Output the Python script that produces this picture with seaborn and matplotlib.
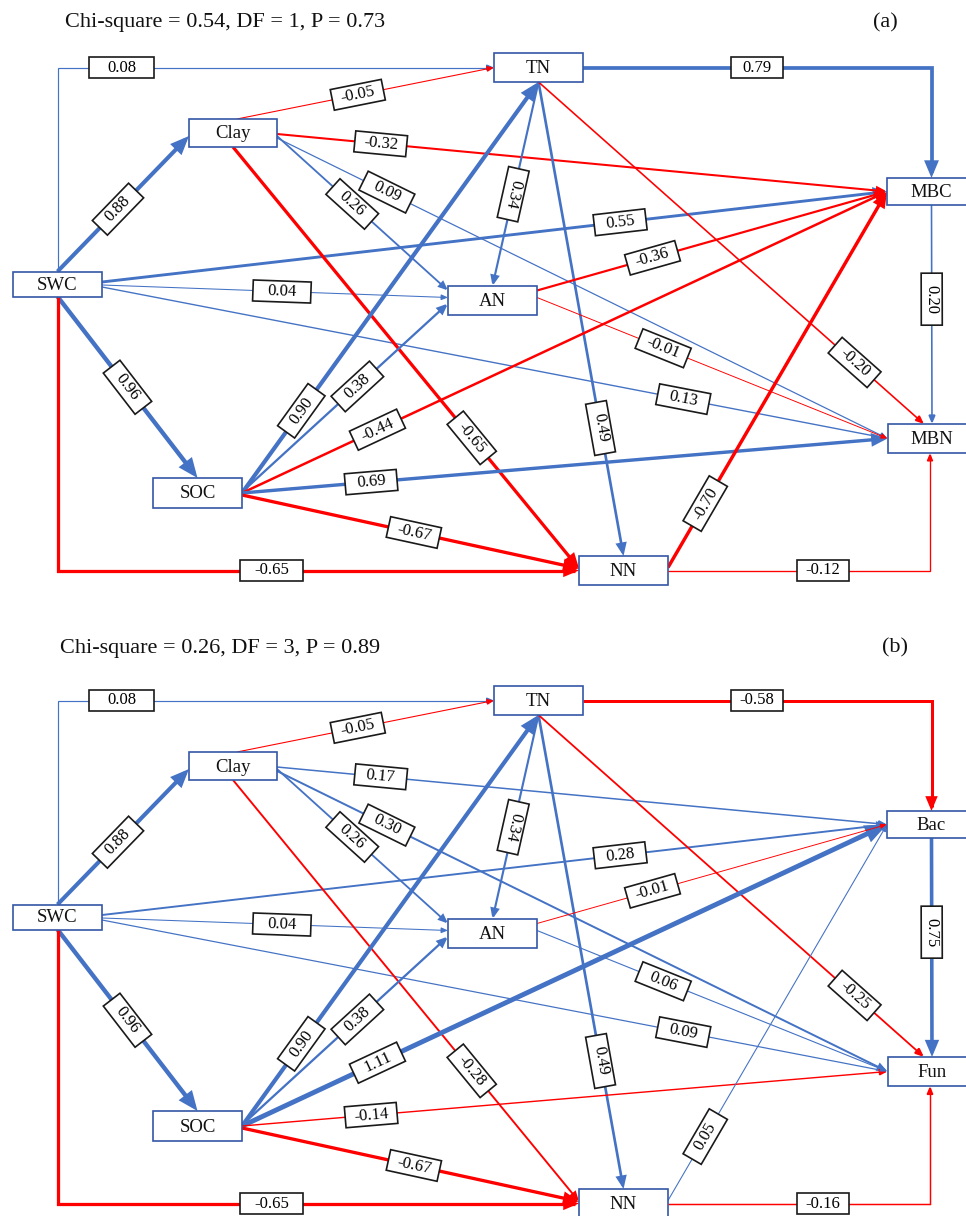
import numpy as np
import matplotlib
matplotlib.use("Agg")
import matplotlib.pyplot as plt
import seaborn as sns
from matplotlib.patches import Rectangle, FancyArrowPatch, ArrowStyle
from matplotlib.path import Path

# ---------------------------------------------------------------- data
# Variables of the two structural equation models
nodes_a = ["SWC", "Clay", "TN", "AN", "SOC", "NN", "MBC", "MBN"]
nodes_b = ["SWC", "Clay", "TN", "AN", "SOC", "NN", "Bac", "Fun"]

# Paths of model (a)
src_a = ["SWC", "SWC", "SWC", "SWC", "SWC", "SWC", "SWC",
         "Clay", "Clay", "Clay", "Clay", "Clay",
         "TN", "TN", "TN", "TN",
         "SOC", "SOC", "SOC", "SOC", "SOC",
         "AN", "AN", "MBC", "NN", "NN"]
tgt_a = ["TN", "Clay", "MBC", "AN", "MBN", "SOC", "NN",
         "TN", "MBC", "AN", "MBN", "NN",
         "MBC", "AN", "NN", "MBN",
         "TN", "AN", "MBC", "MBN", "NN",
         "MBC", "MBN", "MBN", "MBC", "MBN"]
coef_a = [0.08, 0.88, 0.55, 0.04, 0.13, 0.96, -0.65,
          -0.05, -0.32, 0.26, 0.09, -0.65,
          0.79, 0.34, 0.49, -0.20,
          0.90, 0.38, -0.44, 0.69, -0.67,
          -0.36, -0.01, 0.20, -0.70, -0.12]

# Paths of model (b)
src_b = ["SWC", "SWC", "SWC", "SWC", "SWC", "SWC", "SWC",
         "Clay", "Clay", "Clay", "Clay", "Clay",
         "TN", "TN", "TN", "TN",
         "SOC", "SOC", "SOC", "SOC", "SOC",
         "AN", "AN", "Bac", "NN", "NN"]
tgt_b = ["TN", "Clay", "Bac", "AN", "Fun", "SOC", "NN",
         "TN", "Bac", "AN", "Fun", "NN",
         "Bac", "AN", "NN", "Fun",
         "TN", "AN", "Bac", "Fun", "NN",
         "Bac", "Fun", "Fun", "Bac", "Fun"]
coef_b = [0.08, 0.88, 0.28, 0.04, 0.09, 0.96, -0.65,
          -0.05, 0.17, 0.26, 0.30, -0.28,
          -0.58, 0.34, 0.49, -0.25,
          0.90, 0.38, 1.11, -0.14, -0.67,
          -0.01, 0.06, 0.75, 0.05, -0.16]

fit_labels = ["Chi-square = 0.54, DF = 1, P = 0.73",
              "Chi-square = 0.26, DF = 3, P = 0.89"]
panel_tags = ["(a)", "(b)"]

# ---------------------------------------------------------------- layout
# box centre (x, y) and size (w, h) for each slot, in pixels within a panel
slot_xy = [(57.5, 284.0), (233.0, 133.0), (538.5, 67.5), (492.5, 300.5),
           (197.5, 493.0), (623.5, 570.5), (931.5, 191.5), (932.0, 438.5)]
slot_wh = [(89, 25), (88, 28), (89, 29), (89, 29),
           (89, 30), (89, 29), (89, 27), (89, 29)]

# routing for each path: source side/offset, target side/offset,
# elbow type, label position along the path, label box width
routes = [
    ("T", 0, "L", 0, "up", 0.147, 65),
    ("T", 0, "L", 3, None, 0.46, 52),
    ("R", -2, "L", 0, None, 0.66, 52),
    ("R", 1, "L", -3, None, 0.52, 58),
    ("R", 3, "L", 0, None, 0.74, 52),
    ("B", 0, "T", 0, None, 0.50, 52),
    ("B", 0, "L", 0, "down", 0.41, 63),
    ("T", 4, "L", 0, None, 0.47, 52),
    ("R", 1, "L", 0, None, 0.17, 52),
    ("R", 3, "L", -10, None, 0.44, 52),
    ("R", 5, "L", 0, None, 0.18, 52),
    ("B", 0, "L", -2, None, 0.69, 52),
    ("R", 0, "T", 0, "across", 0.50, 52),
    ("B", 0, "T", 0, None, 0.55, 52),
    ("B", 0, "T", 0, None, 0.73, 52),
    ("B", 0, "T", -8, None, 0.82, 52),
    ("R", 0, "B", 0, None, 0.20, 52),
    ("R", -1, "L", 3, None, 0.56, 52),
    ("R", 0, "L", 0, None, 0.21, 52),
    ("R", 0, "L", 0, None, 0.20, 52),
    ("R", 2, "L", -2, None, 0.51, 52),
    ("R", -10, "L", 0, None, 0.33, 52),
    ("R", -3, "L", 0, None, 0.36, 52),
    ("B", 0, "T", 0, None, 0.43, 52),
    ("R", -3, "L", 0, None, 0.17, 52),
    ("R", 0, "B", -2, "across", 0.59, 52),
]

panel_dy = [0, 633]
title_pos = [(65, 23), (60, 648)]
tag_pos = [(885, 23), (895, 648)]

BLUE = "#4472C4"
RED = "#FF0000"
BOX_EDGE = "#3457A6"
W, H = 966, 1216
PX = 0.72  # points per pixel at 100 dpi

sns.set_theme(style="white")
plt.rcParams["font.family"] = ["Liberation Serif", "DejaVu Serif"]

fig = plt.figure(figsize=(W / 100, H / 100), dpi=100)
ax = fig.add_axes([0, 0, 1, 1])
ax.set_xlim(0, W)
ax.set_ylim(H, 0)
ax.axis("off")


def anchor(slot, side, off, dy):
    cx, cy = slot_xy[slot]
    w, h = slot_wh[slot]
    cy += dy
    if side == "T":
        return (cx + off, cy - h / 2)
    if side == "B":
        return (cx + off, cy + h / 2)
    if side == "L":
        return (cx - w / 2, cy + off)
    return (cx + w / 2, cy + off)


def draw_panel(k, names, srcs, tgts, coefs):
    dy = panel_dy[k]
    idx = {n: i for i, n in enumerate(names)}

    for i, (s, t, c) in enumerate(zip(srcs, tgts, coefs)):
        s_side, s_off, t_side, t_off, elbow, lt, bw = routes[i]
        p0 = anchor(idx[s], s_side, s_off, dy)
        p1 = anchor(idx[t], t_side, t_off, dy)
        if elbow in ("up", "down"):
            pts = [p0, (p0[0], p1[1]), p1]
            seg = (pts[1], pts[2])
        elif elbow == "across":
            pts = [p0, (p1[0], p0[1]), p1]
            seg = (pts[0], pts[1])
        else:
            pts = [p0, p1]
            seg = (p0, p1)

        col = BLUE if c >= 0 else RED
        lw_px = min(0.9 + 3.6 * abs(c), 5.2)
        hl = (3.5 + 2.0 * lw_px) * PX
        style = ArrowStyle("-|>", head_length=hl, head_width=hl * 0.42)
        arr = FancyArrowPatch(path=Path(pts), arrowstyle=style,
                              mutation_scale=1, lw=lw_px * PX,
                              color=col, zorder=2, joinstyle="miter",
                              capstyle="butt")
        ax.add_patch(arr)

        # coefficient box on the path
        (x0, y0), (x1, y1) = seg
        lx = x0 + lt * (x1 - x0)
        ly = y0 + lt * (y1 - y0)
        ang_data = np.degrees(np.arctan2(y1 - y0, x1 - x0))
        ang_txt = -ang_data
        while ang_txt > 75:
            ang_txt -= 180
        while ang_txt <= -105:
            ang_txt += 180
        bh = 21
        ax.add_patch(Rectangle((lx - bw / 2, ly - bh / 2), bw, bh,
                               angle=ang_data, rotation_point="center",
                               facecolor="white", edgecolor="#1a1a1a",
                               lw=1.2, zorder=3))
        ax.text(lx, ly, f"{c:.2f}", fontsize=12, rotation=ang_txt,
                rotation_mode="anchor", ha="center", va="center",
                color="black", zorder=4)

    # variable boxes
    for j, n in enumerate(names):
        cx, cy = slot_xy[j]
        w, h = slot_wh[j]
        cy += dy
        ax.add_patch(Rectangle((cx - w / 2, cy - h / 2), w, h,
                               facecolor="white", edgecolor=BOX_EDGE,
                               lw=1.2, zorder=5))
        ax.text(cx, cy + 1, n, fontsize=13.5, ha="center", va="center",
                color="#111111", zorder=6)

    tx, ty = title_pos[k]
    ax.text(tx, ty, fit_labels[k], fontsize=16, ha="left",
            va="center", color="#111111")
    gx, gy = tag_pos[k]
    ax.text(gx, gy, panel_tags[k], fontsize=16, ha="center",
            va="center", color="#111111")


draw_panel(0, nodes_a, src_a, tgt_a, coef_a)
draw_panel(1, nodes_b, src_b, tgt_b, coef_b)

fig.savefig("out.png", dpi=100, facecolor="white")
